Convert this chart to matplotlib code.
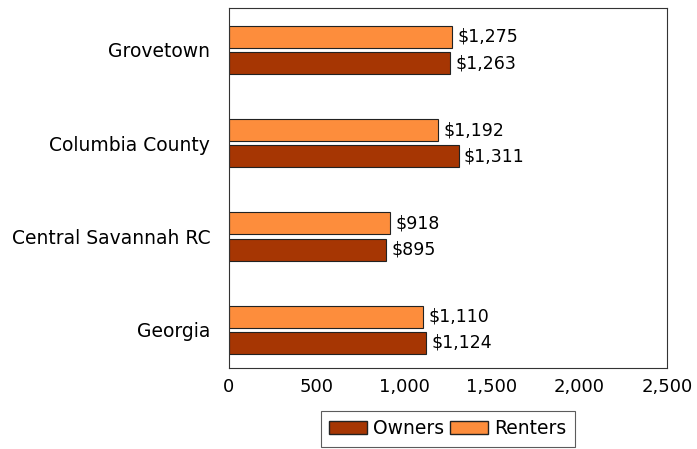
import matplotlib
matplotlib.use("Agg")
import matplotlib.pyplot as plt
import numpy as np
from matplotlib.patches import Patch

categories = ["Georgia", "Central Savannah RC", "Columbia County", "Grovetown"]
owners = [1124, 895, 1311, 1263]
renters = [1110, 918, 1192, 1275]
xticks = [0, 500, 1000, 1500, 2000, 2500]

owner_color = "#a63603"
renter_color = "#fd8d3c"

plt.rcParams['font.family'] = ['DejaVu Sans']
fig = plt.figure(figsize=(6.97, 4.49), dpi=100)
ax = fig.add_axes([229/697, 1-368/449, (667-229)/697, 360/449])

y = np.arange(len(categories))
h = 0.237
off = 0.14
ax.barh(y - off, owners, height=h, color=owner_color, edgecolor="#222222", linewidth=0.8, label="Owners")
ax.barh(y + off, renters, height=h, color=renter_color, edgecolor="#222222", linewidth=0.8, label="Renters")

for yi, v in zip(y, owners):
    ax.text(v + 30, yi - off, f"${v:,}", va="center", ha="left", fontsize=12.5)
for yi, v in zip(y, renters):
    ax.text(v + 30, yi + off, f"${v:,}", va="center", ha="left", fontsize=12.5)

ax.set_xlim(0, 2500)
ax.set_ylim(-0.41, 3.45)
ax.set_xticks(xticks)
ax.set_xticklabels([f"{t:,}" for t in xticks], fontsize=13)
ax.set_yticks(y)
ax.set_yticklabels(categories, fontsize=13.5)
ax.tick_params(axis='x', length=0, pad=7)
ax.tick_params(axis='y', length=0, pad=13.5)
for s in ax.spines.values():
    s.set_color("#333333")
    s.set_linewidth(0.8)

handles = [Patch(facecolor=owner_color, edgecolor="#222222", label="Owners"),
           Patch(facecolor=renter_color, edgecolor="#222222", label="Renters")]
leg = fig.legend(handles=handles, loc="upper center", bbox_to_anchor=(448/697, 1-411/449),
                 ncol=2, fontsize=13.5, frameon=True, fancybox=False, edgecolor="#333333",
                 handlelength=2.03, handleheight=0.7, handletextpad=0.32, columnspacing=0.32,
                 borderpad=0.45, borderaxespad=0)
leg.get_frame().set_linewidth(0.8)

fig.savefig("out.png", dpi=100)
